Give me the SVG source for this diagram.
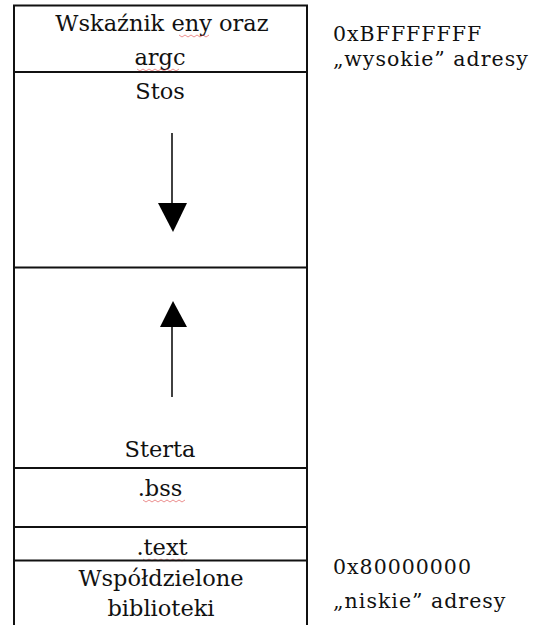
<svg xmlns="http://www.w3.org/2000/svg" width="545" height="625" viewBox="0 0 545 625">
<style>
.t{font-family:"DejaVu Serif","Liberation Serif",serif;font-size:22.5px;fill:#111}
.r{font-size:20.5px;letter-spacing:1px}
.c{text-anchor:middle}
.ln{stroke:#111;stroke-width:2;fill:none}
.ar{stroke:#111;stroke-width:1.6;fill:none}
.hd{fill:#000}
.sq{stroke:#d44;stroke-width:1;fill:none;opacity:0.6}
</style>
<rect width="545" height="625" fill="#fff"/>
<g id="frame">
<line class="ln" x1="14" y1="5" x2="14" y2="625"/>
<line class="ln" x1="307" y1="5" x2="307" y2="625"/>
<line class="ln" x1="13" y1="5.5" x2="308" y2="5.5"/>
</g>
<g id="env">
<text class="t c" x="162" y="31">Wskaźnik eny oraz</text>
<text class="t c" x="160" y="65">argc</text>
<path class="sq" d="M179 35 l3 2 l3 -2 l3 2 l3 -2 l3 2 l3 -2 l3 2 l3 -2 l3 2 l3 -2"/>
<path class="sq" d="M137 69 l3 2 l3 -2 l3 2 l3 -2 l3 2 l3 -2 l3 2 l3 -2 l3 2 l3 -2 l3 2 l3 -2 l3 2 l3 -2"/>
<line class="ln" x1="13" y1="72" x2="308" y2="72"/>
</g>
<g id="stos">
<text class="t c" x="160" y="99">Stos</text>
<line class="ln" x1="13" y1="267.5" x2="308" y2="267.5"/>
</g>
<g id="sterta">
<text class="t c" x="160" y="457">Sterta</text>
<line class="ln" x1="13" y1="468" x2="308" y2="468"/>
</g>
<g id="bss">
<text class="t c" x="160" y="496">.bss</text>
<path class="sq" d="M143 500 l3 2 l3 -2 l3 2 l3 -2 l3 2 l3 -2 l3 2 l3 -2 l3 2 l3 -2 l3 2 l3 -2 l3 2 l3 -2"/>
<line class="ln" x1="13" y1="527" x2="308" y2="527"/>
</g>
<g id="text">
<text class="t c" x="162" y="555">.text</text>
<path class="sq" d="M143 559 l3 2 l3 -2 l3 2 l3 -2 l3 2 l3 -2 l3 2 l3 -2 l3 2 l3 -2 l3 2 l3 -2 l3 2 l3 -2"/>
<line class="ln" x1="13" y1="560.5" x2="308" y2="560.5"/>
</g>
<g id="libs">
<text class="t c" x="161" y="586">Współdzielone</text>
<text class="t c" x="161" y="616">biblioteki</text>
</g>
<g id="high">
<text class="t r" x="333" y="41">0xBFFFFFFF</text>
<text class="t r" x="333" y="66">„wysokie” adresy</text>
</g>
<g id="low">
<text class="t r" x="333" y="574">0x80000000</text>
<text class="t r" x="333" y="608">„niskie” adresy</text>
</g>
<g id="connectors">
<line class="ar" x1="172" y1="133" x2="172" y2="205"/>
<polygon class="hd" points="158,203 187,203 173,232"/>
<line class="ar" x1="172" y1="325" x2="172" y2="397"/>
<polygon class="hd" points="160,327 187,327 173,301"/>
</g>
</svg>
